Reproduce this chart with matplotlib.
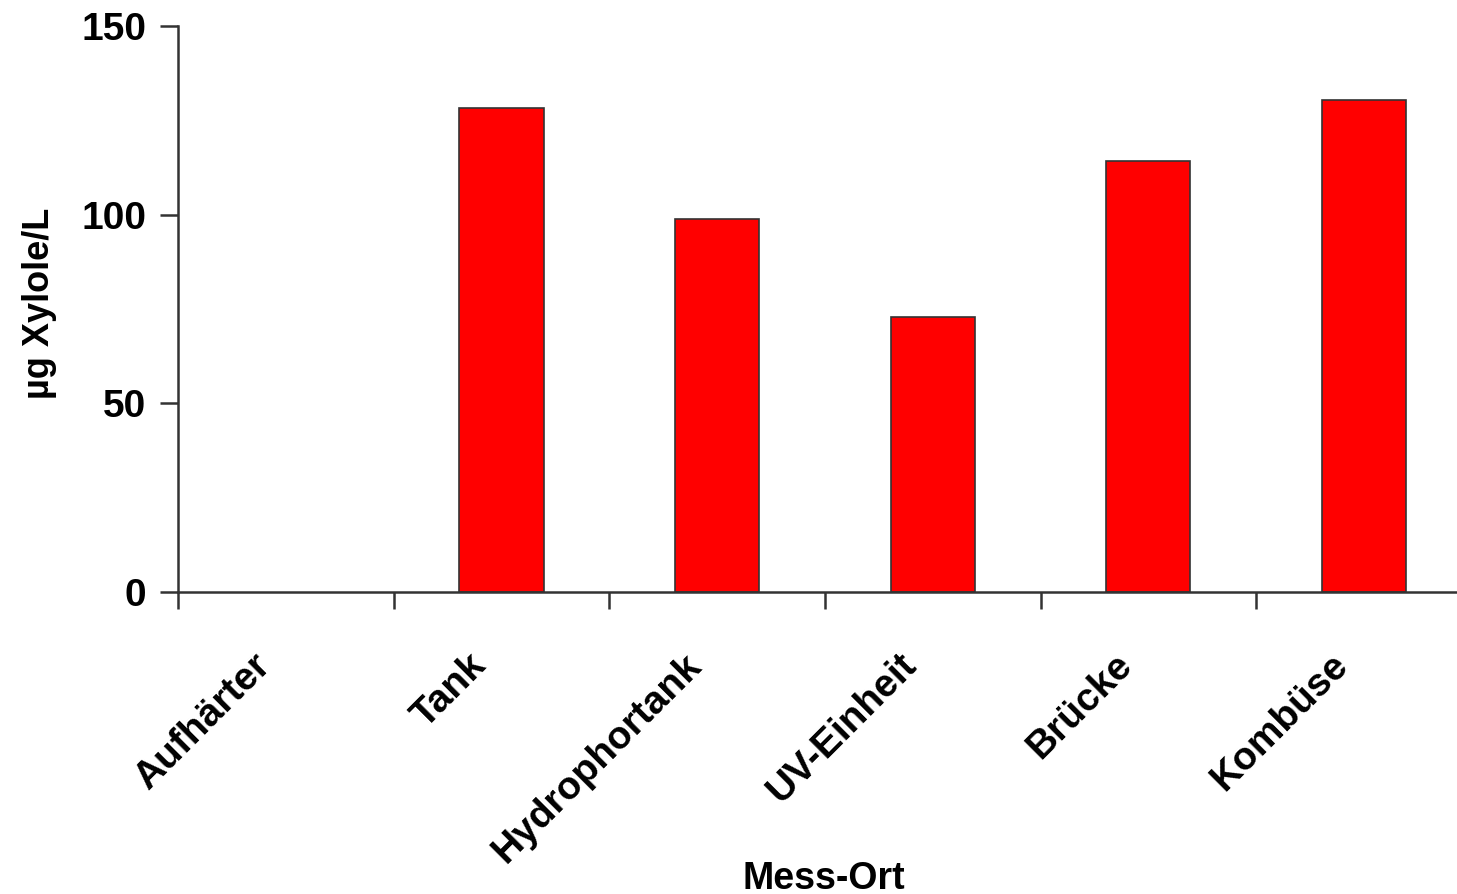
import numpy as np
import matplotlib.pyplot as plt
import matplotlib.transforms as mtransforms

# Daten: Xylole je Mess-Ort
orte = ['Aufhärter', 'Tank', 'Hydrophortank', 'UV-Einheit', 'Brücke', 'Kombüse']
werte = [0, 128.3, 98.9, 72.9, 114.2, 130.4]

plt.rcParams['font.family'] = ['Liberation Sans', 'DejaVu Sans']

fig = plt.figure(figsize=(14.57, 8.94), dpi=100)
ax = fig.add_axes([0.1222, 0.3378, 0.888, 0.633])

x = np.arange(len(orte))
# Balken ohne Wert bekommen keinen Rand (sonst sieht man einen Strich auf der Achse)
raender = ['#333333' if w > 0 else 'none' for w in werte]
ax.bar(x, werte, width=0.39, color='#ff0000', edgecolor=raender, linewidth=1.2)

ax.set_xlim(-0.5, len(orte) - 0.5)
ax.set_ylim(0, 150)
ax.set_yticks([0, 50, 100, 150])

# Striche an den Kategoriegrenzen
ax.set_xticks(np.arange(len(orte)) - 0.5)
ax.set_xticklabels([])
ax.tick_params(axis='x', direction='out', length=12, width=1.8, color='#333333')
ax.tick_params(axis='y', direction='out', length=13, width=1.8, color='#333333',
               labelsize=28, pad=10)
for lab in ax.get_yticklabels():
    lab.set_fontweight('bold')

# Kategorienamen schräg unter den Balken
versatz = mtransforms.ScaledTranslation(-0.34, -0.55, fig.dpi_scale_trans)
trans = mtransforms.blended_transform_factory(ax.transData, ax.transAxes) + versatz
for i, ort in enumerate(orte):
    ax.text(i, 0, ort, transform=trans, rotation=45, ha='right', va='top',
            rotation_mode='anchor', fontsize=28, fontweight='bold', clip_on=False)

ax.spines['top'].set_visible(False)
ax.spines['right'].set_visible(False)
ax.spines['left'].set_color('#333333')
ax.spines['bottom'].set_color('#333333')
ax.spines['left'].set_linewidth(1.8)
ax.spines['bottom'].set_linewidth(1.8)

ax.set_ylabel('µg Xylole/L', fontsize=26, fontweight='bold', va='center')
ax.yaxis.set_label_coords(-0.1067, 0.51)
fig.text(0.5656, 0.006, 'Mess-Ort', fontsize=27, fontweight='bold', ha='center', va='baseline')

fig.savefig('out.png', dpi=100)
